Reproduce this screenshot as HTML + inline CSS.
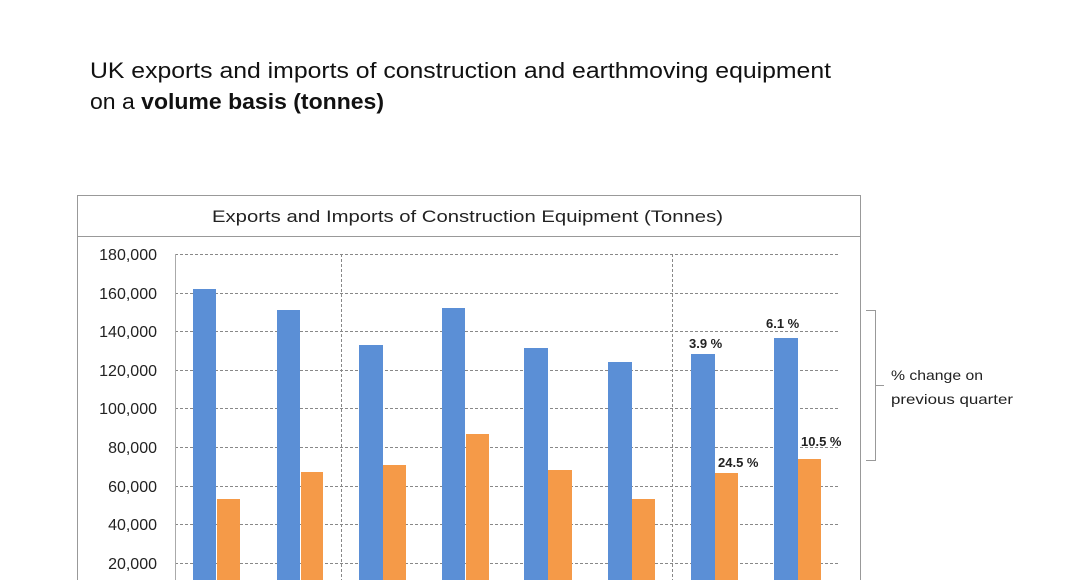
<!DOCTYPE html>
<html><head><meta charset="utf-8"><style>
html,body{margin:0;background:#fff;width:1068px;height:580px;overflow:hidden;font-family:"Liberation Sans",sans-serif}
svg{display:block}
</style></head><body>
<svg width="1068" height="580" xmlns="http://www.w3.org/2000/svg" font-family="Liberation Sans, sans-serif">
<text x="90" y="78" font-size="22" fill="#111" textLength="741" lengthAdjust="spacingAndGlyphs">UK exports and imports of construction and earthmoving equipment</text>
<text x="90" y="109" font-size="22" fill="#111" textLength="294" lengthAdjust="spacingAndGlyphs">on a <tspan font-weight="bold">volume basis (tonnes)</tspan></text>
<path d="M77.5 580 V195.5 H860.5 V580" fill="#fff" stroke="#999"/>
<line x1="77" y1="236.5" x2="861" y2="236.5" stroke="#999"/>
<text x="212" y="222" font-size="17" fill="#222" textLength="511" lengthAdjust="spacingAndGlyphs">Exports and Imports of Construction Equipment (Tonnes)</text>
<g stroke="#888" stroke-dasharray="3,2" stroke-width="1">
<line x1="175" y1="254.5" x2="840" y2="254.5"/><line x1="175" y1="293.5" x2="840" y2="293.5"/>
<line x1="175" y1="331.5" x2="840" y2="331.5"/><line x1="175" y1="370.5" x2="840" y2="370.5"/>
<line x1="175" y1="408.5" x2="840" y2="408.5"/><line x1="175" y1="447.5" x2="840" y2="447.5"/>
<line x1="175" y1="486.5" x2="840" y2="486.5"/><line x1="175" y1="524.5" x2="840" y2="524.5"/>
<line x1="175" y1="563.5" x2="840" y2="563.5"/>
<line x1="341.5" y1="254" x2="341.5" y2="580"/><line x1="672.5" y1="254" x2="672.5" y2="580"/>
</g>
<line x1="175.5" y1="254" x2="175.5" y2="580" stroke="#aaa"/>
<g font-size="16" fill="#222" text-anchor="end">
<text x="157" y="260">180,000</text><text x="157" y="299">160,000</text><text x="157" y="337">140,000</text>
<text x="157" y="376">120,000</text><text x="157" y="414">100,000</text><text x="157" y="453">80,000</text>
<text x="157" y="492">60,000</text><text x="157" y="530">40,000</text><text x="157" y="569">20,000</text>
</g>
<g fill="#5b8fd6">
<rect x="193" y="289" width="23" height="291"/><rect x="277" y="310" width="23" height="270"/>
<rect x="359" y="345" width="24" height="235"/><rect x="442" y="308" width="23" height="272"/>
<rect x="524" y="348" width="24" height="232"/><rect x="608" y="362" width="24" height="218"/>
<rect x="691" y="354" width="24" height="226"/><rect x="774" y="338" width="24" height="242"/>
</g>
<g fill="#f59a48">
<rect x="217" y="499" width="23" height="81"/><rect x="301" y="472" width="22" height="108"/>
<rect x="383" y="465" width="23" height="115"/><rect x="466" y="434" width="23" height="146"/>
<rect x="548" y="470" width="24" height="110"/><rect x="632" y="499" width="23" height="81"/>
<rect x="715" y="473" width="23" height="107"/><rect x="798" y="459" width="23" height="121"/>
</g>
<g font-size="13" font-weight="bold" fill="#222">
<text x="689" y="348">3.9 %</text><text x="766" y="328">6.1 %</text>
<text x="718" y="467">24.5 %</text><text x="801" y="446">10.5 %</text>
</g>
<path d="M866 310.5 H875.5 V460.5 H866 M875.5 385.5 H884" fill="none" stroke="#999"/>
<g font-size="14" fill="#222"><text x="891" y="380" textLength="92" lengthAdjust="spacingAndGlyphs">% change on</text><text x="891" y="404" textLength="122" lengthAdjust="spacingAndGlyphs">previous quarter</text></g>
</svg>
</body></html>
